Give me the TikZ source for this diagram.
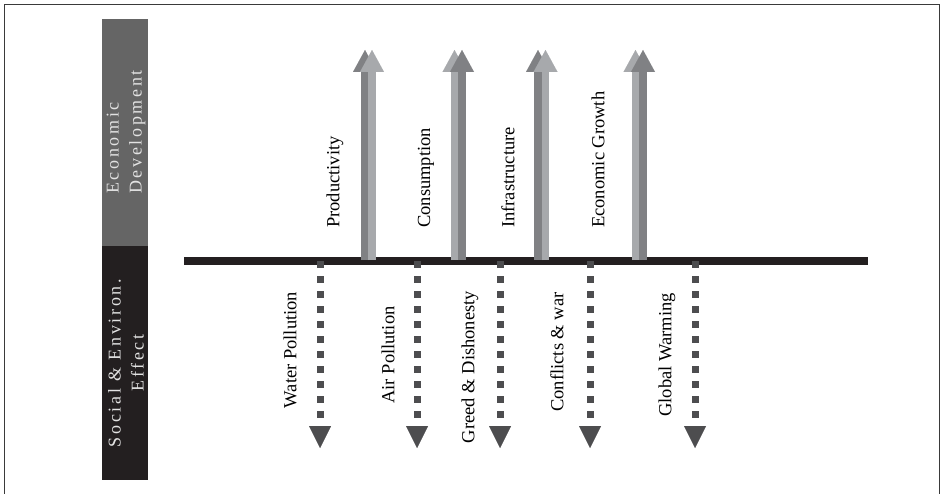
\documentclass[tikz,border=0pt]{standalone}
\usepackage{fontspec}
\setmainfont{Liberation Serif}
\usetikzlibrary{arrows.meta}
\definecolor{barblack}{HTML}{231F20}
\definecolor{panelgray}{HTML}{656565}
\definecolor{updark}{HTML}{808184}
\definecolor{uplight}{HTML}{A7A9AC}
\definecolor{dotgray}{HTML}{4D4D4F}
\definecolor{sidetext}{HTML}{E2E2E2}
\definecolor{framegray}{HTML}{3A3A3A}
\tikzset{
  updarrow/.style={draw=updark, line width=7.5pt, -{Triangle[width=24pt,length=22pt,line width=0.01pt]}},
  uplarrow/.style={draw=uplight, line width=7.5pt, -{Triangle[width=24pt,length=22pt,line width=0.01pt]}},
  downarrow/.style={draw=dotgray, line width=7pt, dash pattern=on 7pt off 8pt, -{Triangle[width=22pt,length=22pt,line width=0.01pt]}},
  uplabel/.style={rotate=90, anchor=west, inner sep=0pt, font=\fontsize{18.5}{22}\selectfont},
  downlabel/.style={rotate=90, anchor=center, inner sep=0pt, font=\fontsize{18.5}{22}\selectfont},
  sidelabel/.style={rotate=90, inner sep=0pt, text=sidetext, font=\fontsize{18}{23}\selectfont\addfontfeature{LetterSpace=15}},
}
\begin{document}
\begin{tikzpicture}[x=1pt,y=-1pt]
\useasboundingbox (0,0) rectangle (944,494);
% frame
\draw[framegray, line width=1.5pt] (4.5,500) -- (4.5,4.5) -- (939.5,4.5) -- (939.5,500);
% side panels
\fill[panelgray] (102,19) rectangle (148,246);
\fill[barblack] (102,246) rectangle (148,480);
\node[sidelabel, align=left] (econdev) at (126,132) {Economic\\Development};
\node[sidelabel, align=center] (socenv) at (126,363) {Social \& Environ.\\Effect};
% horizontal bar
\coordinate (barL) at (184,261);
\coordinate (barR) at (868,261);
\draw[barblack, line width=8pt] (barL) -- (barR);
% up arrows (bottom/top coordinates)
\coordinate (u1b) at (365,260);   \coordinate (u1t) at (365,50);
\coordinate (u2b) at (372,260);   \coordinate (u2t) at (372,50);
\coordinate (u3b) at (454.5,260); \coordinate (u3t) at (454.5,50);
\coordinate (u4b) at (462,260);   \coordinate (u4t) at (462,50);
\coordinate (u5b) at (538,260);   \coordinate (u5t) at (538,50);
\coordinate (u6b) at (545.5,260); \coordinate (u6t) at (545.5,50);
\coordinate (u7b) at (635.5,260); \coordinate (u7t) at (635.5,50);
\coordinate (u8b) at (643,260);   \coordinate (u8t) at (643,50);
\draw[updarrow] (u1b) -- (u1t);
\draw[uplarrow] (u2b) -- (u2t);
\draw[uplarrow] (u3b) -- (u3t);
\draw[updarrow] (u4b) -- (u4t);
\draw[updarrow] (u5b) -- (u5t);
\draw[uplarrow] (u6b) -- (u6t);
\draw[uplarrow] (u7b) -- (u7t);
\draw[updarrow] (u8b) -- (u8t);
% down arrows
\coordinate (d1b) at (320,261); \coordinate (d1t) at (320,448);
\coordinate (d2b) at (417,261); \coordinate (d2t) at (417,448);
\coordinate (d3b) at (500,261); \coordinate (d3t) at (500,448);
\coordinate (d4b) at (590,261); \coordinate (d4t) at (590,448);
\coordinate (d5b) at (695,261); \coordinate (d5t) at (695,448);
\draw[downarrow] (d1b) -- (d1t);
\draw[downarrow] (d2b) -- (d2t);
\draw[downarrow] (d3b) -- (d3t);
\draw[downarrow] (d4b) -- (d4t);
\draw[downarrow] (d5b) -- (d5t);
% up labels
\node[uplabel] (lprod) at (335,228) {Productivity};
\node[uplabel] (lcons) at (426,228) {Consumption};
\node[uplabel] (linfra) at (508,228) {Infrastructure};
\node[uplabel] (lgrowth) at (598,228) {Economic Growth};
% down labels
\node[downlabel] (lwater) at (290,350) {Water Pollution};
\node[downlabel] (lair) at (388,355) {Air Pollution};
\node[downlabel] (lgreed) at (470,367) {Greed \& Dishonesty};
\node[downlabel] (lconf) at (557,352) {Conflicts \& war};
\node[downlabel] (lglobal) at (667,355) {Global Warming};
\end{tikzpicture}
\end{document}
